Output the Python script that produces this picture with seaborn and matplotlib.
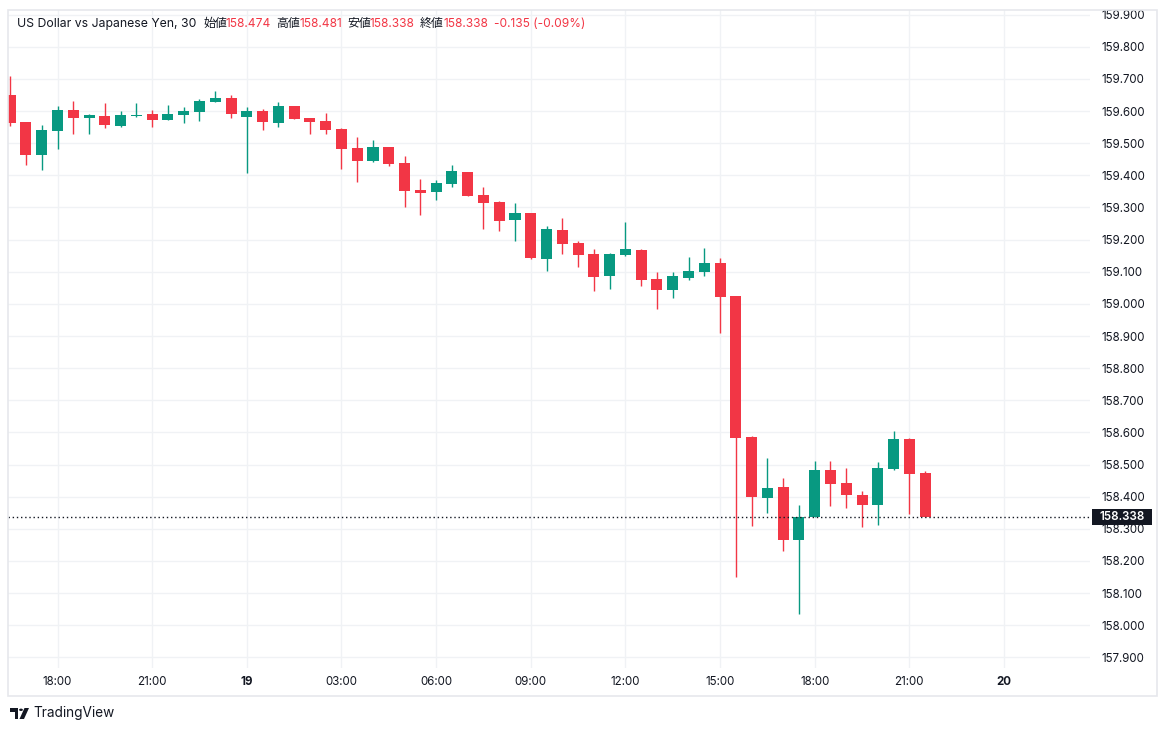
import numpy as np
import pandas as pd
import matplotlib
matplotlib.use("Agg")
import matplotlib.pyplot as plt
import seaborn as sns
from matplotlib.patches import Rectangle, Polygon, Circle

# ---------------- data (USD/JPY, 30 min candles) ----------------
opens = [159.651, 159.565, 159.464, 159.539, 159.603, 159.579, 159.585, 159.554, 159.585, 159.591,
         159.572, 159.588, 159.597, 159.628, 159.641, 159.582, 159.600, 159.563, 159.616, 159.578,
         159.569, 159.544, 159.485, 159.445, 159.488, 159.438, 159.354, 159.348, 159.373, 159.411,
         159.339, 159.317, 159.261, 159.283, 159.140, 159.230, 159.189, 159.155, 159.087, 159.152,
         159.168, 159.077, 159.043, 159.080, 159.099, 159.127, 159.025, 158.586, 158.396, 158.430,
         158.265, 158.337, 158.483, 158.442, 158.405, 158.374, 158.486, 158.579, 158.474]
highs = [159.710, 159.567, 159.557, 159.616, 159.631, 159.592, 159.625, 159.600, 159.625, 159.603,
         159.619, 159.612, 159.638, 159.663, 159.650, 159.612, 159.606, 159.628, 159.617, 159.579,
         159.594, 159.546, 159.519, 159.510, 159.489, 159.460, 159.389, 159.386, 159.432, 159.412,
         159.364, 159.320, 159.314, 159.284, 159.242, 159.267, 159.196, 159.171, 159.158, 159.255,
         159.171, 159.099, 159.099, 159.146, 159.174, 159.143, 159.026, 158.589, 158.520, 158.458,
         158.374, 158.511, 158.511, 158.489, 158.418, 158.508, 158.604, 158.582, 158.481]
lows = [159.555, 159.433, 159.418, 159.483, 159.530, 159.530, 159.547, 159.550, 159.582, 159.550,
        159.572, 159.563, 159.569, 159.628, 159.578, 159.408, 159.541, 159.550, 159.575, 159.530,
        159.530, 159.420, 159.379, 159.442, 159.429, 159.302, 159.277, 159.323, 159.364, 159.336,
        159.233, 159.227, 159.196, 159.140, 159.102, 159.155, 159.115, 159.040, 159.046, 159.149,
        159.056, 158.984, 159.018, 159.074, 159.087, 158.909, 158.150, 158.309, 158.349, 158.231,
        158.035, 158.337, 158.371, 158.365, 158.306, 158.312, 158.483, 158.346, 158.338]
closes = [159.564, 159.464, 159.541, 159.603, 159.579, 159.588, 159.558, 159.588, 159.588, 159.572,
          159.591, 159.600, 159.631, 159.641, 159.591, 159.600, 159.566, 159.616, 159.575, 159.566,
          159.541, 159.482, 159.445, 159.488, 159.435, 159.351, 159.346, 159.376, 159.414, 159.336,
          159.314, 159.258, 159.283, 159.143, 159.233, 159.186, 159.152, 159.084, 159.155, 159.171,
          159.074, 159.043, 159.087, 159.102, 159.127, 159.021, 158.583, 158.399, 158.427, 158.265,
          158.337, 158.483, 158.439, 158.405, 158.374, 158.489, 158.579, 158.471, 158.338]

first_candle = "2000-01-18 16:30"
tick_times = ["2000-01-18 18:00", "2000-01-18 21:00", "2000-01-19 00:00", "2000-01-19 03:00",
              "2000-01-19 06:00", "2000-01-19 09:00", "2000-01-19 12:00", "2000-01-19 15:00",
              "2000-01-19 18:00", "2000-01-19 21:00", "2000-01-20 00:00"]
tick_labels = ["18:00", "21:00", "19", "03:00", "06:00", "09:00", "12:00", "15:00", "18:00", "21:00", "20"]
bold_labels = ["19", "20"]

last_price = 158.338
title_main = "US Dollar vs Japanese Yen, 30"
title_parts = [("始値", "158.474"), ("高値", "158.481"), ("安値", "158.338"), ("終値", "158.338")]
change_text = "-0.135 (-0.09%)"

# ---------------- style ----------------
sns.set_theme(style="white")
plt.rcParams['font.family'] = ['Inter', 'Noto Sans CJK JP', 'DejaVu Sans']

GREEN = "#089981"
RED = "#F23645"
TXT = "#131722"
GRID = "#F0F2F5"

W, H = 1167, 731
fig = plt.figure(figsize=(W / 100, H / 100), dpi=100)
fig.patch.set_facecolor("white")

def fx(x):
    return x / W

def fy(y):
    return 1 - y / H

ax_l, ax_r, ax_t, ax_b = 8, 1090, 10, 668
ax = fig.add_axes([fx(ax_l), fy(ax_b), (ax_r - ax_l) / W, (ax_b - ax_t) / H])
ax.set_facecolor("white")

o = np.array(opens); h = np.array(highs); l = np.array(lows); c = np.array(closes)
x = np.arange(len(o))
up = c >= o
cols = np.where(up, GREEN, RED)

# wicks
ax.vlines(x, l, h, colors=cols, linewidth=1.0, zorder=2)
# bodies
bottoms = np.minimum(o, c)
heights = np.maximum(np.abs(c - o), 0.003)
ax.bar(x, heights, bottom=bottoms, width=0.7, color=cols, linewidth=0, zorder=3)

# last price dotted line
ax.axhline(last_price, color=TXT, linestyle=(0, (1, 2)), linewidth=1.0, zorder=4)

# axes scales
ax.set_ylim(157.8667, 159.9147)
ax.set_xlim(-0.139, 68.45)

t0 = pd.Timestamp(first_candle)
tick_pos = [(pd.Timestamp(t) - t0) / pd.Timedelta(minutes=30) for t in tick_times]
ax.set_xticks(tick_pos)
ax.set_xticklabels(tick_labels)
for lab in ax.get_xticklabels():
    lab.set_color(TXT)
    lab.set_fontsize(8.3)
    if lab.get_text() in bold_labels:
        lab.set_fontweight("bold")

yt = np.round(np.arange(157.9, 159.95, 0.1), 1)
ax.set_yticks(yt)
ax.set_yticklabels([f"{v:.3f}" for v in yt])
ax.yaxis.tick_right()
ax.tick_params(axis="y", length=0, pad=8, labelsize=8.3, labelcolor=TXT)
ax.tick_params(axis="x", length=0, pad=5.5, labelsize=8.3, labelcolor=TXT)

ax.grid(True, color=GRID, linewidth=1)
ax.set_axisbelow(True)
sns.despine(ax=ax, left=True, bottom=True, right=True, top=True)

# outer frame
fig.add_artist(Rectangle((fx(8), fy(696)), (1157 - 8) / W, (696 - 10) / H, fill=False,
                         edgecolor="#E6E8EC", linewidth=1.2, transform=fig.transFigure, zorder=1))

# last price label box
fig.add_artist(Rectangle((fx(1092), fy(525)), 60 / W, 16 / H, facecolor=TXT, edgecolor="none",
                         transform=fig.transFigure, zorder=10))
fig.text(fx(1122), fy(517), f"{last_price:.3f}", color="white", fontsize=8.3, ha="center",
         va="center", fontweight="semibold", zorder=11)

# title line
ty = fy(24)
fig.text(fx(17), ty, title_main, color=TXT, fontsize=8.8, va="center", ha="left")
label_x = [203, 276, 347, 420]
val_x = [226, 299, 370, 443]
for (lbl, val), lx, vx in zip(title_parts, label_x, val_x):
    fig.text(fx(lx), ty, lbl, color=TXT, fontsize=8.6, va="center", ha="left")
    fig.text(fx(vx), ty, val, color=RED, fontsize=8.6, va="center", ha="left")
fig.text(fx(494), ty, change_text, color=RED, fontsize=8.6, va="center", ha="left")

# TradingView logo
logo = [
    Polygon([(fx(10), fy(708)), (fx(18), fy(708)), (fx(18), fy(719)), (fx(14.5), fy(719)),
             (fx(14.5), fy(711.5)), (fx(10), fy(711.5))], closed=True),
    Polygon([(fx(24.5), fy(708)), (fx(29), fy(708)), (fx(24), fy(719)), (fx(19.5), fy(719))], closed=True),
]
for p in logo:
    p.set_facecolor(TXT); p.set_edgecolor("none"); p.set_transform(fig.transFigure)
    fig.add_artist(p)
fig.add_artist(Circle((fx(21), fy(709.8)), 1.9 / W, facecolor=TXT, edgecolor="none",
                      transform=fig.transFigure))
fig.text(fx(33), fy(713.5), "TradingView", color=TXT, fontsize=9.8, va="center", ha="left")

fig.savefig("out.png", dpi=100, facecolor="white")
